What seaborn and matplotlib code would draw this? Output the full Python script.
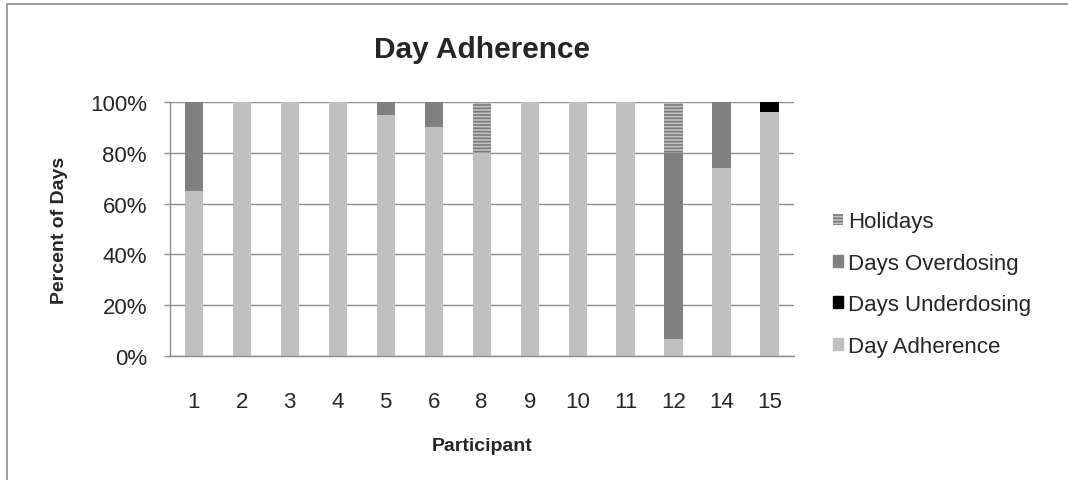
import numpy as np
import pandas as pd
import seaborn as sns
import matplotlib.pyplot as plt
from matplotlib.patches import Rectangle, Patch

# data (percent of days)
participants = ['1', '2', '3', '4', '5', '6', '8', '9', '10', '11', '12', '14', '15']
day_adherence = [65, 100, 100, 100, 95, 90, 80, 100, 100, 100, 6.5, 74, 96]
days_underdosing = [0, 0, 0, 0, 0, 0, 0, 0, 0, 0, 0, 0, 4]
days_overdosing = [35, 0, 0, 0, 5, 10, 0, 0, 0, 0, 73.5, 26, 0]
holidays = [0, 0, 0, 0, 0, 0, 20, 0, 0, 0, 20, 0, 0]

df = pd.DataFrame({
    'participant': participants,
    'adherence': day_adherence,
    'under': days_underdosing,
    'over': days_overdosing,
    'holidays': holidays,
})

sns.set_style('white')
plt.rcParams['font.family'] = ['Liberation Sans', 'DejaVu Sans']
plt.rcParams['hatch.linewidth'] = 1.2

fig = plt.figure(figsize=(10.68, 4.81), dpi=100)
ax = fig.add_axes([0.159, 0.258, 0.584, 0.528])

# stacked layers, bottom to top
layers = [
    ('adherence', 'Day Adherence', '#c0c0c0', None),
    ('under', 'Days Underdosing', '#000000', None),
    ('over', 'Days Overdosing', '#808080', None),
    ('holidays', 'Holidays', '#c0c0c0', '-----'),
]
bottom = np.zeros(len(df))
for col, label, color, hatch in layers:
    sns.barplot(data=df, x='participant', y=col, color=color, width=0.38,
                bottom=bottom, ax=ax, saturation=1, linewidth=0,
                edgecolor='#7a7a7a' if hatch else color, hatch=hatch,
                order=participants)
    bottom = bottom + df[col].values

ax.set_ylim(0, 100)
ax.set_xlim(-0.5, len(participants) - 0.5)
ax.set_yticks([0, 20, 40, 60, 80, 100])
ax.set_yticklabels(['0%', '20%', '40%', '60%', '80%', '100%'])
ax.yaxis.grid(True, color='#8c8c8c', linewidth=1)
ax.set_axisbelow(True)

# ticks between categories on x axis
ax.set_xticks(np.arange(len(participants)))
ax.set_xticklabels(participants)
ax.set_xticks(np.arange(-0.5, len(participants)), minor=True)
ax.tick_params(axis='x', which='major', length=0, pad=25, labelsize=16)
ax.tick_params(axis='x', which='minor', length=4.5, color='#8c8c8c', width=1)
ax.tick_params(axis='y', length=4.5, color='#8c8c8c', width=1, labelsize=16, pad=12,
               left=True)

for side in ['top', 'right']:
    ax.spines[side].set_visible(False)
for side in ['left', 'bottom']:
    ax.spines[side].set_color('#8c8c8c')
    ax.spines[side].set_linewidth(1)

ax.set_xlabel('Participant', fontsize=14, fontweight='bold', labelpad=18)
ax.set_ylabel('Percent of Days', fontsize=14, fontweight='bold', labelpad=16)
ax.set_title('Day Adherence', fontsize=21.5, fontweight='bold', pad=32)

handles = [
    Patch(facecolor='#c0c0c0', edgecolor='#7a7a7a', hatch='-----', linewidth=0),
    Patch(facecolor='#808080', edgecolor='#808080'),
    Patch(facecolor='#000000', edgecolor='#000000'),
    Patch(facecolor='#c0c0c0', edgecolor='#c0c0c0'),
]
labels = ['Holidays', 'Days Overdosing', 'Days Underdosing', 'Day Adherence']
fig.legend(handles, labels, loc='upper left', bbox_to_anchor=(0.761, 0.6),
           frameon=False, fontsize=16, handlelength=0.45, handleheight=0.45,
           handletextpad=0.25, labelspacing=0.92)

# chart frame
fig.patches.append(Rectangle((7 / 1068, -0.1), 1.2, 1 - 5 / 481 + 0.1,
                             transform=fig.transFigure, fill=False,
                             edgecolor='#8c8c8c', linewidth=1.2))

fig.savefig('out.png', dpi=100)
